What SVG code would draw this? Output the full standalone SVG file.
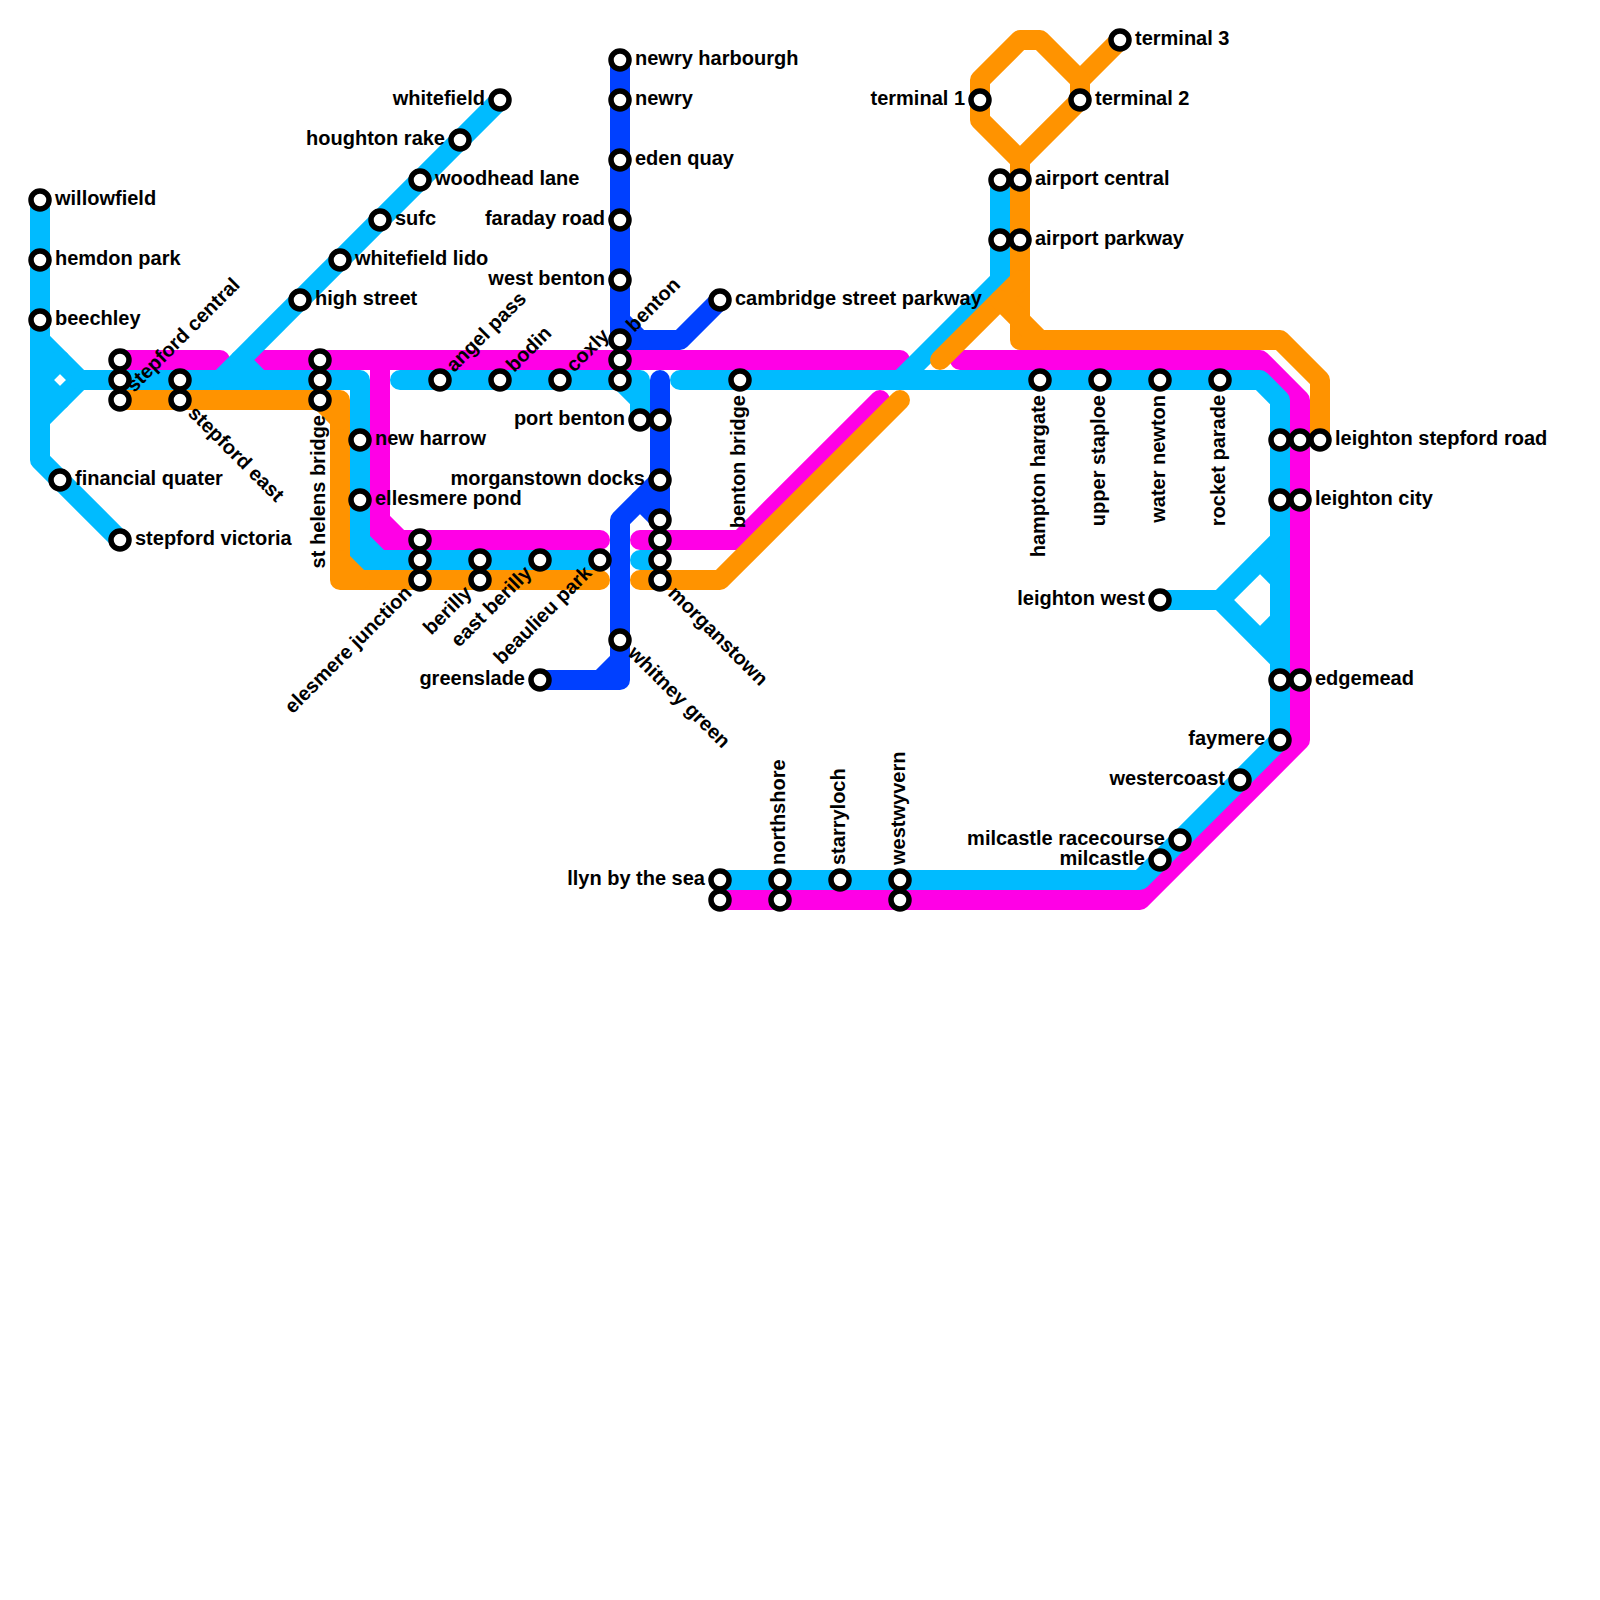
<svg xmlns="http://www.w3.org/2000/svg" width="1600" height="1600" viewBox="0 0 1600 1600">
<style>
.l{fill:none;stroke-width:20;stroke-linecap:round;stroke-linejoin:round}
.b{stroke:#0040ff}.m{stroke:#ff00e6}.c{stroke:#00bbff}.o{stroke:#ff9300}
circle{fill:#fff;stroke:#000;stroke-width:5.5}
text{font-family:"Liberation Sans",Arial,sans-serif;font-size:20px;font-weight:700;fill:#000}
.e{text-anchor:end}
</style>
<rect width="1600" height="1600" fill="#fff"/>
<g id="connectors">
<g id="line-blue" class="l b">
<path d="M620 60V340H680L720 300"/><path d="M620 320L640 340"/>
<path d="M660 380V520"/><path d="M660 480L620 520V680H540"/><path d="M640 500L660 520"/><path d="M620 660L600 680"/>
</g>
<g id="line-magenta" class="l m">
<path d="M120 360H220"/><path d="M260 360H900"/><path d="M380 360V540H600"/><path d="M380 520L400 540"/>
<path d="M640 540H740L880 400"/>
<path d="M960 360H1260L1300 400V740L1140 900H720"/>
</g>
<g id="line-cyan" class="l c">
<path d="M40 200V460L120 540"/><path d="M40 340L80 380L40 420"/><path d="M40 380L60 360"/><path d="M40 380L60 400"/>
<path d="M80 380H360V560H600"/><path d="M360 540L380 560"/><path d="M220 380L500 100"/><path d="M240 360L260 380"/>
<path d="M400 380H640V420"/><path d="M620 380L640 400"/>
<path d="M640 560H660"/>
<path d="M1000 180V280L900 380"/>
<path d="M680 380H1260L1280 400V740L1140 880H720"/>
<path d="M1160 600H1220L1280 540"/><path d="M1220 600L1280 660"/><path d="M1280 580L1260 560"/><path d="M1280 620L1260 640"/>
</g>
<g id="line-orange" class="l o">
<path d="M120 400H340V580H600"/><path d="M320 400L340 420"/><path d="M340 560L360 580"/>
<path d="M640 580H720L900 400"/>
<path d="M1120 40L1080 80"/>
<path d="M1020 160L980 120V80L1020 40H1040L1080 80V100L1020 160V340H1280L1320 380V440"/>
<path d="M1020 280L940 360"/><path d="M1000 300L1040 340"/>
</g>
</g>
<g id="stations">
<g id="willowfield"><circle cx="40" cy="200" r="9"/><text x="55" y="205">willowfield</text></g>
<g id="hemdon-park"><circle cx="40" cy="260" r="9"/><text x="55" y="265">hemdon park</text></g>
<g id="beechley"><circle cx="40" cy="320" r="9"/><text x="55" y="325">beechley</text></g>
<g id="financial-quater"><circle cx="60" cy="480" r="9"/><text x="75" y="485">financial quater</text></g>
<g id="stepford-victoria"><circle cx="120" cy="540" r="9"/><text x="135" y="545">stepford victoria</text></g>
<g id="stepford-central"><circle cx="120" cy="360" r="9"/><circle cx="120" cy="380" r="9"/><circle cx="120" cy="400" r="9"/><text transform="translate(120 400) rotate(-45)" x="15" y="5">stepford central</text></g>
<g id="stepford-east"><circle cx="180" cy="380" r="9"/><circle cx="180" cy="400" r="9"/><text transform="translate(180 400) rotate(45)" x="15" y="5">stepford east</text></g>
<g id="st-helens-bridge"><circle cx="320" cy="360" r="9"/><circle cx="320" cy="380" r="9"/><circle cx="320" cy="400" r="9"/><text class="e" transform="translate(320 400) rotate(-90)" x="-15" y="5">st helens bridge</text></g>
<g id="high-street"><circle cx="300" cy="300" r="9"/><text x="315" y="305">high street</text></g>
<g id="whitefield-lido"><circle cx="340" cy="260" r="9"/><text x="355" y="265">whitefield lido</text></g>
<g id="sufc"><circle cx="380" cy="220" r="9"/><text x="395" y="225">sufc</text></g>
<g id="woodhead-lane"><circle cx="420" cy="180" r="9"/><text x="435" y="185">woodhead lane</text></g>
<g id="houghton-rake"><circle cx="460" cy="140" r="9"/><text class="e" x="445" y="145">houghton rake</text></g>
<g id="whitefield"><circle cx="500" cy="100" r="9"/><text class="e" x="485" y="105">whitefield</text></g>
<g id="new-harrow"><circle cx="360" cy="440" r="9"/><text x="375" y="445">new harrow</text></g>
<g id="ellesmere-pond"><circle cx="360" cy="500" r="9"/><text x="375" y="505">ellesmere pond</text></g>
<g id="elesmere-junction"><circle cx="420" cy="540" r="9"/><circle cx="420" cy="560" r="9"/><circle cx="420" cy="580" r="9"/><text class="e" transform="translate(420 580) rotate(-45)" x="-15" y="5">elesmere junction</text></g>
<g id="berilly"><circle cx="480" cy="560" r="9"/><circle cx="480" cy="580" r="9"/><text class="e" transform="translate(480 580) rotate(-45)" x="-15" y="5">berilly</text></g>
<g id="east-berilly"><circle cx="540" cy="560" r="9"/><text class="e" transform="translate(540 560) rotate(-45)" x="-15" y="5">east berilly</text></g>
<g id="beaulieu-park"><circle cx="600" cy="560" r="9"/><text class="e" transform="translate(600 560) rotate(-45)" x="-15" y="5">beaulieu park</text></g>
<g id="angel-pass"><circle cx="440" cy="380" r="9"/><text transform="translate(440 380) rotate(-45)" x="15" y="5">angel pass</text></g>
<g id="bodin"><circle cx="500" cy="380" r="9"/><text transform="translate(500 380) rotate(-45)" x="15" y="5">bodin</text></g>
<g id="coxly"><circle cx="560" cy="380" r="9"/><text transform="translate(560 380) rotate(-45)" x="15" y="5">coxly</text></g>
<g id="benton"><circle cx="620" cy="340" r="9"/><circle cx="620" cy="360" r="9"/><circle cx="620" cy="380" r="9"/><text transform="translate(620 340) rotate(-45)" x="15" y="5">benton</text></g>
<g id="newry-harbourgh"><circle cx="620" cy="60" r="9"/><text x="635" y="65">newry harbourgh</text></g>
<g id="newry"><circle cx="620" cy="100" r="9"/><text x="635" y="105">newry</text></g>
<g id="eden-quay"><circle cx="620" cy="160" r="9"/><text x="635" y="165">eden quay</text></g>
<g id="faraday-road"><circle cx="620" cy="220" r="9"/><text class="e" x="605" y="225">faraday road</text></g>
<g id="west-benton"><circle cx="620" cy="280" r="9"/><text class="e" x="605" y="285">west benton</text></g>
<g id="cambridge-street-parkway"><circle cx="720" cy="300" r="9"/><text x="735" y="305">cambridge street parkway</text></g>
<g id="port-benton"><circle cx="640" cy="420" r="9"/><circle cx="660" cy="420" r="9"/><text class="e" x="625" y="425">port benton</text></g>
<g id="morganstown-docks"><circle cx="660" cy="480" r="9"/><text class="e" x="645" y="485">morganstown docks</text></g>
<g id="morganstown"><circle cx="660" cy="520" r="9"/><circle cx="660" cy="540" r="9"/><circle cx="660" cy="560" r="9"/><circle cx="660" cy="580" r="9"/><text transform="translate(660 580) rotate(45)" x="15" y="5">morganstown</text></g>
<g id="whitney-green"><circle cx="620" cy="640" r="9"/><text transform="translate(620 640) rotate(45)" x="15" y="5">whitney green</text></g>
<g id="greenslade"><circle cx="540" cy="680" r="9"/><text class="e" x="525" y="685">greenslade</text></g>
<g id="benton-bridge"><circle cx="740" cy="380" r="9"/><text class="e" transform="translate(740 380) rotate(-90)" x="-15" y="5">benton bridge</text></g>
<g id="terminal-1"><circle cx="980" cy="100" r="9"/><text class="e" x="965" y="105">terminal 1</text></g>
<g id="terminal-2"><circle cx="1080" cy="100" r="9"/><text x="1095" y="105">terminal 2</text></g>
<g id="terminal-3"><circle cx="1120" cy="40" r="9"/><text x="1135" y="45">terminal 3</text></g>
<g id="airport-central"><circle cx="1000" cy="180" r="9"/><circle cx="1020" cy="180" r="9"/><text x="1035" y="185">airport central</text></g>
<g id="airport-parkway"><circle cx="1000" cy="240" r="9"/><circle cx="1020" cy="240" r="9"/><text x="1035" y="245">airport parkway</text></g>
<g id="hampton-hargate"><circle cx="1040" cy="380" r="9"/><text class="e" transform="translate(1040 380) rotate(-90)" x="-15" y="5">hampton hargate</text></g>
<g id="upper-staploe"><circle cx="1100" cy="380" r="9"/><text class="e" transform="translate(1100 380) rotate(-90)" x="-15" y="5">upper staploe</text></g>
<g id="water-newton"><circle cx="1160" cy="380" r="9"/><text class="e" transform="translate(1160 380) rotate(-90)" x="-15" y="5">water newton</text></g>
<g id="rocket-parade"><circle cx="1220" cy="380" r="9"/><text class="e" transform="translate(1220 380) rotate(-90)" x="-15" y="5">rocket parade</text></g>
<g id="leighton-stepford-road"><circle cx="1280" cy="440" r="9"/><circle cx="1300" cy="440" r="9"/><circle cx="1320" cy="440" r="9"/><text x="1335" y="445">leighton stepford road</text></g>
<g id="leighton-city"><circle cx="1280" cy="500" r="9"/><circle cx="1300" cy="500" r="9"/><text x="1315" y="505">leighton city</text></g>
<g id="leighton-west"><circle cx="1160" cy="600" r="9"/><text class="e" x="1145" y="605">leighton west</text></g>
<g id="edgemead"><circle cx="1280" cy="680" r="9"/><circle cx="1300" cy="680" r="9"/><text x="1315" y="685">edgemead</text></g>
<g id="faymere"><circle cx="1280" cy="740" r="9"/><text class="e" x="1265" y="745">faymere</text></g>
<g id="westercoast"><circle cx="1240" cy="780" r="9"/><text class="e" x="1225" y="785">westercoast</text></g>
<g id="milcastle-racecourse"><circle cx="1180" cy="840" r="9"/><text class="e" x="1165" y="845">milcastle racecourse</text></g>
<g id="milcastle"><circle cx="1160" cy="860" r="9"/><text class="e" x="1145" y="865">milcastle</text></g>
<g id="llyn-by-the-sea"><circle cx="720" cy="880" r="9"/><circle cx="720" cy="900" r="9"/><text class="e" x="705" y="885">llyn by the sea</text></g>
<g id="northshore"><circle cx="780" cy="880" r="9"/><circle cx="780" cy="900" r="9"/><text transform="translate(780 880) rotate(-90)" x="15" y="5">northshore</text></g>
<g id="starryloch"><circle cx="840" cy="880" r="9"/><text transform="translate(840 880) rotate(-90)" x="15" y="5">starryloch</text></g>
<g id="westwyvern"><circle cx="900" cy="880" r="9"/><circle cx="900" cy="900" r="9"/><text transform="translate(900 880) rotate(-90)" x="15" y="5">westwyvern</text></g>
</g>
</svg>
